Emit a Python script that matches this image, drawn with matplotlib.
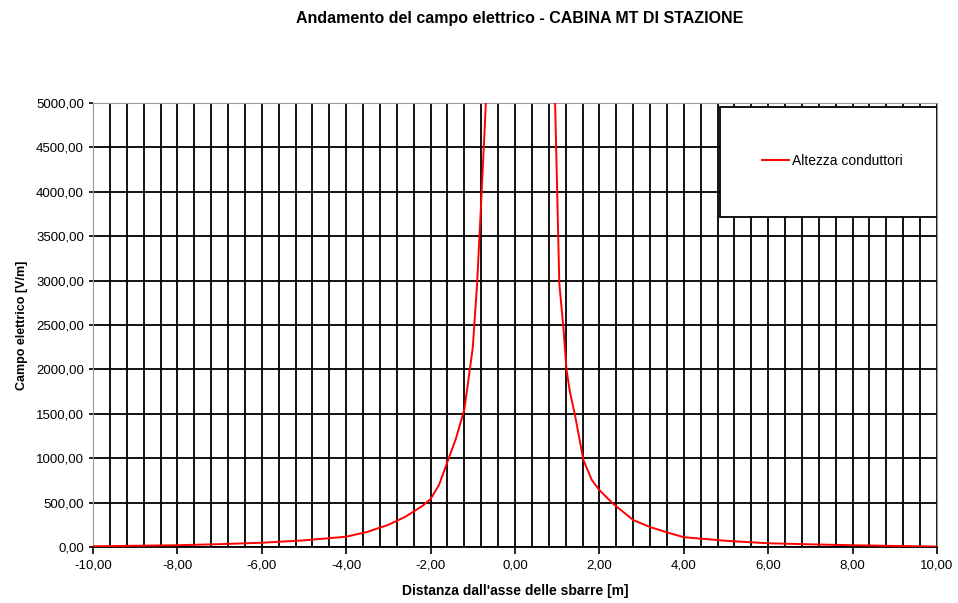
import numpy as np
import matplotlib
matplotlib.use("Agg")
import matplotlib.pyplot as plt
from matplotlib.ticker import FuncFormatter, MultipleLocator
from matplotlib.patches import Rectangle

# field values (values above 5000 are clipped by the axis)
dist = [-10.0, -9.0, -8.0, -7.0, -6.0, -5.0, -4.0, -3.5, -3.0, -2.6, -2.2, -2.0,
        -1.8, -1.6, -1.4, -1.2, -1.07, -1.0, -0.9, -0.8, -0.7, -0.6,
        0.85, 0.95, 1.05, 1.15, 1.22, 1.3, 1.42, 1.62, 1.82, 2.0, 2.33, 2.8,
        3.2, 3.6, 4.0, 5.0, 6.0, 7.0, 8.0, 9.0, 10.0]
campo = [8, 14, 20, 32, 48, 75, 116, 170, 250, 340, 460, 540,
         700, 960, 1220, 1550, 2000, 2250, 2950, 3900, 4900, 6200,
         6500, 5000, 2970, 2450, 2000, 1750, 1490, 980, 755, 640, 485, 304,
         225, 165, 110, 70, 42, 30, 20, 12, 5]

title = "Andamento del campo elettrico - CABINA MT DI STAZIONE"
xlabel = "Distanza dall'asse delle sbarre [m]"
ylabel = "Campo elettrico [V/m]"
series_name = "Altezza conduttori"

plt.rcParams["font.family"] = ["Liberation Sans", "DejaVu Sans"]

fig = plt.figure(figsize=(9.58, 6.03), dpi=100)
ax = fig.add_axes([93 / 958, 1 - 547 / 603, 844 / 958, 444 / 603])

ax.plot(dist, campo, color="#ff0000", linewidth=1.4, label=series_name, zorder=3)

ax.set_xlim(-10, 10)
ax.set_ylim(0, 5000)
ax.xaxis.set_major_locator(MultipleLocator(2))
ax.xaxis.set_minor_locator(MultipleLocator(0.4))
ax.yaxis.set_major_locator(MultipleLocator(500))

fmt = FuncFormatter(lambda v, p: f"{v:.2f}".replace(".", ","))
ax.xaxis.set_major_formatter(fmt)
ax.yaxis.set_major_formatter(fmt)

ax.grid(True, which="both", axis="x", color="black", linewidth=1.3)
ax.grid(True, which="major", axis="y", color="black", linewidth=1.3)
ax.tick_params(axis="x", which="major", length=5, width=1.2, labelsize=9.5, pad=4)
ax.tick_params(axis="x", which="minor", length=0)
ax.tick_params(axis="y", length=3, width=1.2, labelsize=9.5)

for s in ["top", "right", "left"]:
    ax.spines[s].set_color("#999999")
ax.spines["bottom"].set_color("black")
ax.spines["bottom"].set_linewidth(1.3)

ax.set_xlabel(xlabel, fontsize=10, fontweight="bold", labelpad=9)
ax.set_ylabel(ylabel, fontsize=9, fontweight="bold", labelpad=6)
fig.text(0.542, 0.97, title, ha="center", va="center", fontsize=11.5, fontweight="bold")

# legend box
box = Rectangle((0.743, 0.743), 0.257, 0.248, transform=ax.transAxes,
                facecolor="white", edgecolor="black", linewidth=1.3, zorder=4)
ax.add_patch(box)
leg = ax.legend(loc="center", bbox_to_anchor=(0.876, 0.869), frameon=False,
                fontsize=10, handlelength=2.0, handletextpad=0.2)
leg.set_zorder(5)

fig.savefig("out.png", dpi=100)
